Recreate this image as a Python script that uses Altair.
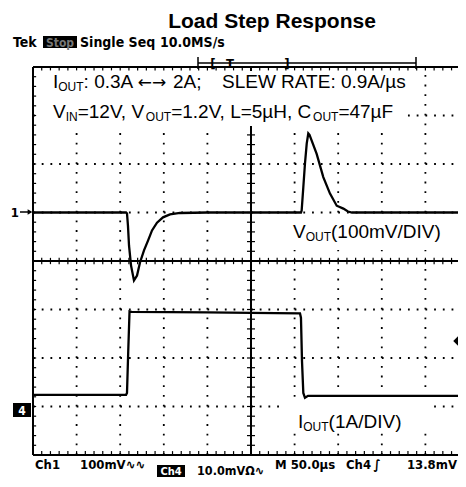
import altair as alt
import numpy as np
import pandas as pd

# ---------------- data ----------------
# time in microseconds from the left edge of the screen (50 us/div)
t_vout = [0, 106.7, 107.8, 108.9, 110.1, 112.4, 115.8, 119.3, 122.7, 127.3,
          131.9, 136.5, 142.2, 149.1, 157.1, 168.6, 200, 250, 307.3, 308.1,
          310.0, 311.9, 313.9, 315.7, 317.1, 319.6, 325.3, 332.9, 340.6, 348.3,
          355.9, 361.2, 365.8, 420, 490]
# VOUT deviation in mV (100 mV/div)
vout_mv = [0, 0, -2, -27, -68, -109, -140, -130, -103, -78,
           -58, -37, -21, -10, -4, -1, 0, 0, 0, 4,
           52, 101, 142, 163, 160, 148, 121, 73, 39, 14,
           8, 2, 0, 0, 0]

t_iout = [0, 106.7, 107.8, 109.2, 110.7, 113, 200, 250, 306.2, 307.3,
          308.5, 310.0, 311.9, 315.4, 400, 490]
# IOUT in A (1 A/div)
iout_a = [0.31, 0.31, 0.35, 1.2, 2.03, 2.02, 2.01, 2.0, 1.99, 1.9,
          1.0, 0.35, 0.25, 0.29, 0.29, 0.29]

VOUT_REF_DIV = 5.0     # channel 1 marker level (divisions from bottom)
IOUT_GND_DIV = 0.93    # channel 4 ground marker level

XMAX = 487.39          # visible part of the 500 us screen
OX, OY = 33, 67        # page position of the graticule origin

vdf = pd.DataFrame({"t": t_vout, "v": vout_mv})
vdf["y"] = VOUT_REF_DIV + vdf["v"] / 100.0
idf = pd.DataFrame({"t": t_iout, "a": iout_a})
idf["y"] = IOUT_GND_DIV + idf["a"]

xs = alt.Scale(domain=[0, XMAX], nice=False, zero=False)
ys = alt.Scale(domain=[0, 8], nice=False, zero=False)

# ---------------- graticule ----------------
vgrid = pd.DataFrame({"x": [50, 100, 150, 200, 300, 350, 400, 450]})
vgrid["x2"] = vgrid["x"]
vgrid["y"] = 0.0
vgrid["y2"] = 8.0
hgrid = pd.DataFrame({"y": [1, 2, 3, 5, 6, 7]})
hgrid["y2"] = hgrid["y"]
hgrid["x"] = 0.0
hgrid["x2"] = XMAX

cross = pd.DataFrame([(250, 250, 0, 8), (0, XMAX, 4, 4)], columns=["x", "x2", "y", "y2"])
border = pd.DataFrame([(0, 0, 0, 8), (0, XMAX, 8, 8), (0, XMAX, 0, 0)],
                      columns=["x", "x2", "y", "y2"])

ctk, btk = [], []
for t in np.arange(10, XMAX, 10):
    ctk.append((t, t, 4 - 0.065, 4 + 0.065))
    btk.append((t, t, 8, 8 - 0.07))
    btk.append((t, t, 0, 0.08))
for yv in np.arange(0.2, 8, 0.2):
    ctk.append((250 - 4.6, 250 + 4.6, yv, yv))
    btk.append((0, 3.6, yv, yv))
cticks = pd.DataFrame(ctk, columns=["x", "x2", "y", "y2"])
bticks = pd.DataFrame(btk, columns=["x", "x2", "y", "y2"])


def seg_layer(df, w, dash=None):
    kw = dict(color="black", strokeWidth=w)
    if dash:
        kw["strokeDash"] = dash
        kw["strokeCap"] = "butt"
    return alt.Chart(df).mark_rule(**kw).encode(
        x=alt.X("x:Q", scale=xs, axis=None), x2="x2:Q",
        y=alt.Y("y:Q", scale=ys, axis=None), y2="y2:Q")


vgrid_l = seg_layer(vgrid, 1.8, [1.8, 7.9])
hgrid_l = seg_layer(hgrid, 1.8, [1.8, 6.92])
cross_l = seg_layer(cross, 2)
cticks_l = seg_layer(cticks, 1.2)
border_l = seg_layer(border, 2)
bticks_l = seg_layer(bticks, 1.2)

trace_v = alt.Chart(vdf).mark_line(color="black", strokeWidth=2.3, clip=True).encode(
    x=alt.X("t:Q", scale=xs, axis=None), y=alt.Y("y:Q", scale=ys, axis=None))
trace_i = alt.Chart(idf).mark_line(color="black", strokeWidth=2.3, clip=True).encode(
    x=alt.X("t:Q", scale=xs, axis=None), y=alt.Y("y:Q", scale=ys, axis=None))

# ---------------- text ----------------
ARIAL = "Liberation Sans, Arial, sans-serif"
DJV = "DejaVu Sans, sans-serif"
TEK = "DejaVu Sans Condensed, Liberation Sans Narrow, DejaVu Sans, sans-serif"
one = pd.DataFrame({"k": [0]})

W = {' ': 278, '\u00a0': 278, '(': 333, ')': 333, ',': 278, '.': 278, '/': 278,
     ':': 278, ';': 278, '=': 584, 'A': 667, 'C': 722, 'D': 722, 'E': 667,
     'F': 611, 'H': 722, 'I': 278, 'L': 556, 'N': 722, 'O': 778, 'R': 722,
     'S': 667, 'T': 611, 'U': 722, 'V': 667, 'W': 944, 'm': 833, 's': 500,
     '\u00b5': 576}
for d in "0123456789":
    W[d] = 556


def label(txt, px, py, size, font=ARIAL, weight="normal", align="left", color="black"):
    return alt.Chart(one).mark_text(text=txt, font=font, fontSize=size, fontWeight=weight,
                                    align=align, baseline="alphabetic", color=color).encode(
        x=alt.value(px - OX), y=alt.value(py - OY))


def rich(segments, x0, base, main=19, sub=12, drop=3):
    out = []
    x = x0
    for txt, kind in segments:
        size = sub if kind == "sub" else main
        out.append(label(txt, x, base + (drop if kind == "sub" else 0), size))
        x += sum(W.get(c, 556) for c in txt) * size / 1000.0
    return out


def box(x1, x2, y1, y2, color="black"):
    return alt.Chart(one).mark_rect(color=color).encode(
        x=alt.value(x1 - OX), x2=alt.value(x2 - OX), y=alt.value(y1 - OY), y2=alt.value(y2 - OY))


def hline(x1, x2, y, w=1.5):
    return alt.Chart(one).mark_rule(color="black", strokeWidth=w).encode(
        x=alt.value(x1 - OX), x2=alt.value(x2 - OX), y=alt.value(y - OY))


def vline(x, y1, y2, w=1.5):
    return alt.Chart(one).mark_rule(color="black", strokeWidth=w).encode(
        x=alt.value(x - OX), y=alt.value(y1 - OY), y2=alt.value(y2 - OY))


# white panels behind the annotation texts (they hide the graticule)
panels = [box(36, 407, 71, 126, "white"),
          box(286, 452, 216, 250, "white"),
          box(283, 430, 400, 433, "white")]

M, S = "main", "sub"
texts = []
texts.append(label("Load Step Response", 272, 28, 21, weight="bold", align="center"))
texts.append(label("Tek", 13, 47, 14, font=TEK, weight="bold"))
texts.append(box(43, 77, 36, 48))
texts.append(label("Stop", 60, 46.5, 12, font=TEK, weight="bold", align="center", color="#777777"))
texts.append(label("Single Seq", 80, 47, 14, font=TEK, weight="bold"))
texts.append(label("10.0MS/s", 160, 47, 14, font=TEK, weight="bold"))
texts.append(hline(198, 416, 63))
texts.append(vline(198, 57, 69))
texts.append(vline(416, 57, 69))
texts.append(label("[", 213, 68, 13, font=TEK, weight="bold", align="center"))
texts.append(label("T", 230, 68, 13, font=TEK, weight="bold", align="center"))
texts.append(label("]", 287, 68, 13, font=TEK, weight="bold", align="center"))

texts += rich([("I", M), ("OUT", S), (": 0.3A", M)], 53, 88)
texts.append(label("\u2190\u2192", 152, 88, 17, font=DJV, align="center"))
texts += rich([("2A;", M)], 173, 88)
texts += rich([("SLEW RATE: 0.9A/\u00b5s", M)], 222, 88)
texts += rich([("V", M), ("IN", S), ("=12V, V", M), ("OUT", S),
               ("=1.2V, L=5\u00b5H, C", M), ("OUT", S), ("=47\u00b5F", M)], 53, 118)
texts += rich([("V", M), ("OUT", S), ("(100mV/DIV)", M)], 293, 238)
texts += rich([("I", M), ("OUT", S), ("(1A/DIV)", M)], 298, 428)

# channel markers
texts.append(label("1", 19, 217, 13, font=TEK, weight="bold", align="right"))
texts.append(hline(20, 31, 212, 1.5))
texts.append(alt.Chart(one).mark_point(shape="triangle-right", filled=True, color="black", size=30,
                                       opacity=1).encode(x=alt.value(30 - OX), y=alt.value(212 - OY)))
texts.append(box(13, 31, 403, 417))
texts.append(label("4", 22, 415, 12, font=TEK, weight="bold", align="center", color="white"))
texts.append(alt.Chart(one).mark_point(shape="diamond", filled=True, color="black", size=90,
                                       opacity=1).encode(x=alt.value(458 - OX), y=alt.value(341 - OY)))

# bottom readouts
texts.append(label("Ch1", 35, 469, 13, font=TEK, weight="bold"))
texts.append(label("100mV\u223f\u223f", 80, 469, 13, font=TEK, weight="bold"))
texts.append(label("M 50.0\u00b5s", 275, 469, 13, font=TEK, weight="bold"))
texts.append(label("Ch4", 346, 469, 13, font=TEK, weight="bold"))
texts.append(label("\u222b", 377, 469, 13, font=TEK, weight="bold", align="center"))
texts.append(label("13.8mV", 457, 469, 13, font=TEK, weight="bold", align="right"))
texts.append(box(157, 185, 465, 477))
texts.append(label("Ch4", 171, 475, 11, font=TEK, weight="bold", align="center", color="white"))
texts.append(label("10.0mV\u03a9\u223f", 197, 475, 12.5, font=TEK, weight="bold"))

chart = alt.layer(vgrid_l, hgrid_l, cross_l, cticks_l, *panels, border_l, bticks_l,
                  trace_v, trace_i, *texts).properties(
    width=425, height=388,
    autosize=alt.AutoSizeParams(type="none"),
    padding={"left": 25, "top": 59, "right": 0, "bottom": 24},
    background="white",
).configure_view(stroke=None)

chart.save("out.html", embed_options={"renderer": "svg", "actions": False})
